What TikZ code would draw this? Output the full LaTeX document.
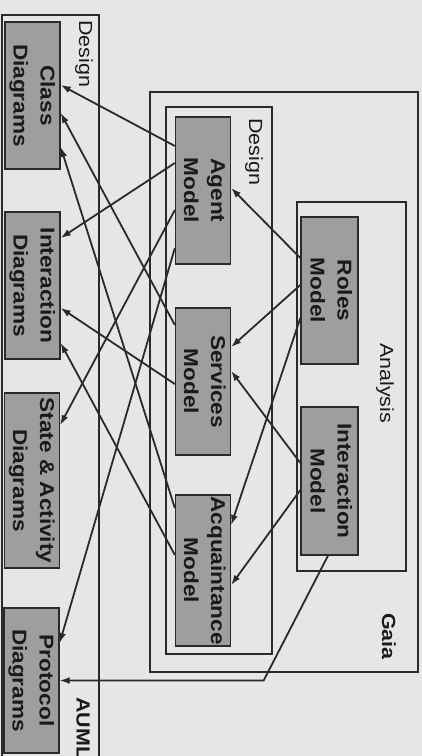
\documentclass[tikz,border=0pt]{standalone}
\usepackage{fontspec}
\setmainfont{Liberation Sans}
\usetikzlibrary{arrows.meta,calc}
\definecolor{paper}{HTML}{E6E6E6}
\definecolor{boxfill}{HTML}{9E9E9E}
\definecolor{ink}{HTML}{2A2A2A}
\definecolor{textink}{HTML}{1A1A1A}
% text set sideways, reading downwards
\newcommand{\vtext}[1]{\rotatebox{-90}{\scalebox{1.13}[1]{#1}}}
\newcommand{\twolines}[2]{\begin{tabular}{@{}c@{}}#1\\#2\end{tabular}}
\begin{document}
\begin{tikzpicture}[x=1pt,y=-1pt,
  model/.style={draw=ink, line width=1.3pt, fill=boxfill, inner sep=0pt,
    minimum width=55pt, text=textink,
    font=\fontsize{20}{27}\selectfont\bfseries},
  frame/.style={draw=ink, line width=1.1pt},
  tag/.style={inner sep=0pt, anchor=north, text=textink,
    font=\fontsize{19}{22}\selectfont},
  boldtag/.style={tag, font=\fontsize{19}{22}\selectfont\bfseries},
  flow/.style={draw=ink, line width=1.8pt, -{Latex[length=10pt,width=7pt]}},
]
\fill[paper] (0,0) rectangle (422,756);
\useasboundingbox (0,0) rectangle (422,756);
\clip (0,0) rectangle (422,756);

% frames
\draw[frame] (2,770) -- (2,15) -- (99,15) -- (99,770);
\draw[frame] (150,92) rectangle (418,672);
\draw[frame] (166,107) rectangle (272,654);
\draw[frame] (297,202) rectangle (406,571);

% frame titles
\node[tag] (tdesignA) at (84,20) {\vtext{Design}};
\node[boldtag] (taum) at (83,697) {\vtext{AUML}};
\node[boldtag] (tgaia) at (389,613) {\vtext{Gaia}};
\node[tag] (tdesignG) at (254,118) {\vtext{Design}};
\node[tag] (tanalysis) at (385,343) {\vtext{Analysis}};

% AUML diagrams
\node[model, minimum height=147pt] (cls) at (32.5,95.5) {\vtext{\twolines{Class}{Diagrams}}};
\node[model, minimum height=147pt] (intd) at (32.5,285.5) {\vtext{\twolines{Interaction}{Diagrams}}};
\node[model, minimum height=175pt] (state) at (32,480.5) {\vtext{\twolines{State \& Activity}{Diagrams}}};
\node[model, minimum height=145pt] (proto) at (31.5,680.5) {\vtext{\twolines{Protocol}{Diagrams}}};

% Gaia design models
\node[model, minimum height=147pt] (agent) at (203,190.5) {\vtext{\twolines{Agent}{Model}}};
\node[model, minimum height=147pt] (serv) at (203,381.5) {\vtext{\twolines{Services}{Model}}};
\node[model, minimum height=151pt] (acq) at (203,570.5) {\vtext{\twolines{Acquaintance}{Model}}};

% Gaia analysis models
\node[model, minimum width=57pt, minimum height=147pt] (roles) at (329.5,290.5) {\vtext{\twolines{Roles}{Model}}};
\node[model, minimum width=57pt, minimum height=148pt] (imod) at (329.5,481) {\vtext{\twolines{Interaction}{Model}}};

% analysis -> design
\draw[flow] ($(roles.west)+(0,-32.5)$) -- ($(agent.east)+(0,-2.5)$);
\draw[flow] ($(roles.west)+(0,-5.5)$) -- ($(serv.east)+(0,-34.5)$);
\draw[flow] ($(roles.west)+(0,27.5)$) -- ($(acq.east)+(0,-45.5)$);
\draw[flow] ($(imod.west)+(0,-18)$) -- ($(serv.east)+(0,-10.5)$);
\draw[flow] ($(imod.west)+(0,9)$) -- ($(acq.east)+(0,14.5)$);

% design -> AUML
\draw[flow] ($(agent.west)+(0,-44.5)$) -- ($(cls.east)+(0,-10.5)$);
\draw[flow] ($(agent.west)+(0,-27.5)$) -- ($(intd.east)+(0,-47.5)$);
\draw[flow] ($(agent.west)+(0,19.5)$) -- ($(state.east)+(0,-55.5)$);
\draw[flow] ($(agent.west)+(0,57.5)$) -- ($(proto.east)+(0,-37.5)$);
\draw[flow] ($(serv.west)+(0,-56.5)$) -- ($(cls.east)+(0,17.5)$);
\draw[flow] ($(serv.west)+(0,2.5)$) -- ($(intd.east)+(0,22.5)$);
\draw[flow] ($(acq.west)+(0,-62.5)$) -- ($(cls.east)+(0,51.5)$);
\draw[flow] ($(acq.west)+(0,-15.5)$) -- ($(intd.east)+(0,57.5)$);

% interaction model -> protocol diagrams
\coordinate (bend) at ($(proto.east)+(204,0)$);
\draw[flow] ($(imod.south)+(-1.5,0)$) -- (bend) -- (proto.east);
\end{tikzpicture}
\end{document}
